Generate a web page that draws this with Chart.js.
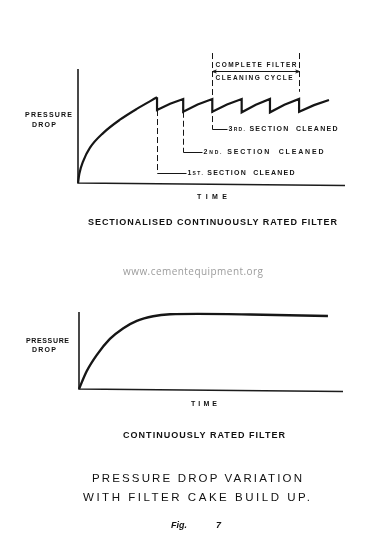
<!DOCTYPE html>
<html>
<head>
<meta charset="utf-8">
<script src="https://cdn.jsdelivr.net/npm/chart.js@4"></script>
<style>
  body { margin: 0; background: #fff; width: 389px; height: 540px; overflow: hidden; position: relative;
         font-family: "Liberation Sans", Arial, sans-serif; color: #111; }
  canvas { position: absolute; left: 0; }
  .t { position: absolute; white-space: nowrap; transform: translateY(-50%); line-height: 1; }
</style>
</head>
<body>
<canvas id="topChart" width="389" height="250" style="top:0"></canvas>
<canvas id="botChart" width="389" height="190" style="top:250px"></canvas>
<div id="labels"></div>
<script>
/* ---------- data (time / pressure in arbitrary % of axis) ---------- */
// sectionalised filter: initial cake build-up
const riseTime     = [0, 0.5, 2, 4.5, 9.5, 15.7, 22, 29.6];
const risePressure = [0, 8, 19.5, 31, 44, 55.5, 65, 75.2];

// sectionalised filter: sawtooth after each section is cleaned
const sawTime     = [29.6, 29.6, 34.5, 39.4, 39.4, 44.8, 50.3, 50.3, 55.8, 61.3, 61.3, 66.6, 71.9, 71.9, 77.3, 82.8, 82.8, 88.4, 94];
const sawPressure = [75.2, 64, 69.5, 73.7, 62.5, 68.8, 73.7, 62.5, 68.8, 73.7, 62, 68.6, 73.7, 62, 68.6, 73.7, 62.5, 68.3, 72.8];

// cleaning events marked on the top chart
const cleanTime     = [29.6, 39.4, 50.3];
const cleanFrom     = [64, 62.5, 114];
const cleanLabelAt  = [8.5, 27.5, 47.1];
const cleanOrdinal  = ['1', '2', '3'];
const cleanSuffix   = ['ST.', 'ND.', 'RD.'];
const cycleStart = 50.3;
const cycleEnd   = 82.8;
const cycleTop   = 114;
const cycleBottom = 80;
const cycleArrowAt = 98.5;

// continuously rated filter
const contTime     = [0, 2.9, 6.7, 11.7, 16.8, 21.9, 28.1, 34.5, 45, 64.8, 94.3];
const contPressure = [0, 23, 44, 65, 79, 88.5, 94.5, 97, 97.6, 96.8, 94.8];

const toXY = (xs, ys) => xs.map((v, i) => ({ x: v, y: ys[i] }));

/* ---------- helpers ---------- */
const INK = '#161616';
const FONT = '"Liberation Sans", Arial, sans-serif';

function drawSpaced(ctx, parts, x, y, width) {
  const chars = [];
  parts.forEach(([txt, size]) => { for (const c of txt) chars.push({ c, size }); });
  let nat = 0;
  chars.forEach(ch => {
    ctx.font = `bold ${ch.size}px ${FONT}`;
    ch.w = ctx.measureText(ch.c).width;
    nat += ch.w;
  });
  const gap = chars.length > 1 ? (width - nat) / (chars.length - 1) : 0;
  ctx.textBaseline = 'middle';
  ctx.textAlign = 'left';
  ctx.fillStyle = INK;
  let cx = x;
  chars.forEach(ch => {
    ctx.font = `bold ${ch.size}px ${FONT}`;
    ctx.fillText(ch.c, cx, y);
    cx += ch.w + gap;
  });
}

function seg(ctx, x1, y1, x2, y2) {
  ctx.beginPath(); ctx.moveTo(x1, y1); ctx.lineTo(x2, y2); ctx.stroke();
}

/* ---------- plugins ---------- */
const axesLines = {
  id: 'axesLines',
  beforeDatasetsDraw(chart) {
    const { ctx, chartArea: a } = chart;
    ctx.save();
    ctx.strokeStyle = '#1c1c1c';
    ctx.lineWidth = 1.6;
    ctx.beginPath();
    ctx.moveTo(a.left, a.top);
    ctx.lineTo(a.left, a.bottom);
    ctx.lineTo(a.right, a.bottom + 2.5);
    ctx.stroke();
    ctx.restore();
  }
};

const cleaningMarks = {
  id: 'cleaningMarks',
  afterDatasetsDraw(chart) {
    const { ctx, scales: { x, y } } = chart;
    const lead   = [29, 19, 15];
    const widths = [107, 120, 109];
    ctx.save();
    ctx.strokeStyle = INK;
    ctx.lineWidth = 1;
    cleanTime.forEach((t, i) => {
      const px = Math.round(x.getPixelForValue(t)) + 0.5;
      const y0 = y.getPixelForValue(cleanFrom[i]);
      const yl = Math.round(y.getPixelForValue(cleanLabelAt[i])) + 0.5;
      ctx.setLineDash([6, 3]);
      seg(ctx, px, y0, px, yl);
      ctx.setLineDash([]);
      seg(ctx, px, yl, px + lead[i], yl);
      drawSpaced(ctx, [[cleanOrdinal[i], 7], [cleanSuffix[i], 5], [' SECTION  CLEANED', 7]],
                 px + lead[i] + 1, yl, widths[i]);
    });

    // complete cleaning cycle bracket
    const xs = Math.round(x.getPixelForValue(cycleStart)) + 0.5;
    const xe = Math.round(x.getPixelForValue(cycleEnd)) + 0.5;
    ctx.setLineDash([6, 3]);
    seg(ctx, xe, y.getPixelForValue(cycleTop), xe, y.getPixelForValue(cycleBottom));
    ctx.setLineDash([]);
    const ya = Math.round(y.getPixelForValue(cycleArrowAt)) + 0.5;
    seg(ctx, xs, ya, xe, ya);
    ctx.beginPath();
    ctx.moveTo(xs + 4, ya - 1.5); ctx.lineTo(xs, ya); ctx.lineTo(xs + 4, ya + 1.5);
    ctx.moveTo(xe - 4, ya - 1.5); ctx.lineTo(xe, ya); ctx.lineTo(xe - 4, ya + 1.5);
    ctx.stroke();
    drawSpaced(ctx, [['COMPLETE FILTER', 6.5]], xs + 3, ya - 6.7, 81);
    drawSpaced(ctx, [['CLEANING CYCLE', 6.5]], xs + 3, ya + 6.6, 77);
    ctx.restore();
  }
};

/* ---------- charts ---------- */
const baseOptions = (pad) => ({
  responsive: false,
  animation: false,
  layout: { padding: pad },
  plugins: { legend: { display: false }, tooltip: { enabled: false } },
  elements: { point: { radius: 0 } },
  scales: {
    x: { type: 'linear', min: 0, max: 100, display: false },
    y: { type: 'linear', min: 0, max: 100, display: false }
  }
});

new Chart(document.getElementById('topChart'), {
  type: 'line',
  data: {
    datasets: [
      {
        data: toXY(riseTime, risePressure),
        borderColor: INK, borderWidth: 2.2,
        cubicInterpolationMode: 'monotone', clip: false
      },
      {
        data: toXY(sawTime, sawPressure),
        borderColor: INK, borderWidth: 2.2,
        tension: 0, clip: false, borderJoinStyle: 'miter'
      }
    ]
  },
  options: baseOptions({ left: 78, right: 44, top: 69, bottom: 67 }),
  plugins: [axesLines, cleaningMarks]
});

new Chart(document.getElementById('botChart'), {
  type: 'line',
  data: {
    datasets: [{
      data: toXY(contTime, contPressure),
      borderColor: INK, borderWidth: 2.4,
      cubicInterpolationMode: 'monotone', clip: false
    }]
  },
  options: baseOptions({ left: 79, right: 46, top: 62, bottom: 51 }),
  plugins: [axesLines]
});

/* ---------- page texts ---------- */
// [text, left, centreY, width (0 = natural), size, style]
const texts = [
  ['PRESSURE', 25, 114, 47, 7, 'bold'],
  ['DROP', 32, 124, 24, 7, 'bold'],
  ['TIME', 197, 195.7, 30, 7, 'bold'],
  ['SECTIONALISED CONTINUOUSLY RATED FILTER', 88, 222, 249, 9, 'bold'],
  ['www.cementequipment.org', 123, 271, 140, 10, 'web'],
  ['PRESSURE', 26, 339.5, 43, 7, 'bold'],
  ['DROP', 32, 348.5, 24, 7, 'bold'],
  ['TIME', 191, 403.3, 26, 7, 'bold'],
  ['CONTINUOUSLY RATED FILTER', 123, 435, 162, 9, 'bold'],
  ['PRESSURE DROP VARIATION', 92, 479, 210, 11.5, 'plain'],
  ['WITH FILTER CAKE BUILD UP.', 83, 498, 227, 11.5, 'plain'],
  ['Fig.', 171, 525, 0, 9, 'italic'],
  ['7', 216, 525, 0, 9, 'italic']
];

const box = document.getElementById('labels');
texts.forEach(([txt, left, cy, w, size, kind]) => {
  const d = document.createElement('div');
  d.className = 't';
  d.textContent = txt;
  d.style.left = left + 'px';
  d.style.top = cy + 'px';
  d.style.fontSize = size + 'px';
  if (kind === 'bold') d.style.fontWeight = 'bold';
  if (kind === 'italic') { d.style.fontStyle = 'italic'; d.style.fontWeight = 'bold'; }
  if (kind === 'web') { d.style.color = '#9c9c9c'; d.style.fontFamily = '"Open Sans", sans-serif'; }
  box.appendChild(d);
  if (w > 0 && txt.length > 1) {
    const nat = d.getBoundingClientRect().width;
    d.style.letterSpacing = ((w - nat) / (txt.length - 1)) + 'px';
  }
});
</script>
</body>
</html>
